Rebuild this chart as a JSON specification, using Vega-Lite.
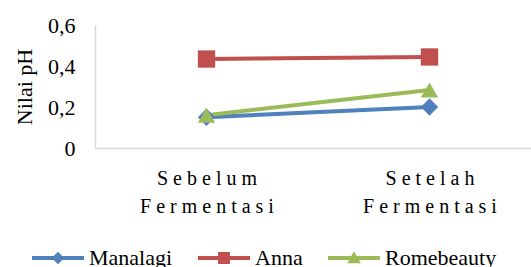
{
  "$schema": "https://vega.github.io/schema/vega-lite/v6.json",
  "autosize": {"type": "none"},
  "padding": {"left": 95, "top": 25, "right": 0, "bottom": 119},
  "width": 446,
  "height": 123,
  "background": "white",
  "config": {
    "view": {"stroke": null},
    "font": "Liberation Serif"
  },
  "data": {
    "values": [
      {"waktu": "Sebelum Fermentasi", "varietas": "Manalagi", "ph": 0.15},
      {"waktu": "Setelah Fermentasi", "varietas": "Manalagi", "ph": 0.20},
      {"waktu": "Sebelum Fermentasi", "varietas": "Anna", "ph": 0.434},
      {"waktu": "Setelah Fermentasi", "varietas": "Anna", "ph": 0.444},
      {"waktu": "Sebelum Fermentasi", "varietas": "Romebeauty", "ph": 0.16},
      {"waktu": "Setelah Fermentasi", "varietas": "Romebeauty", "ph": 0.283}
    ]
  },
  "encoding": {
    "x": {
      "field": "waktu",
      "type": "nominal",
      "sort": null,
      "scale": {"type": "point", "padding": 0.5},
      "axis": {
        "title": null,
        "labelAngle": 0,
        "ticks": false,
        "domainColor": "#d9d9d9",
        "domainWidth": 1.5,
        "labelFont": "Liberation Serif",
        "labelFontSize": 20,
        "labelColor": "#000000",
        "labelPadding": 20,
        "labelLineHeight": 28,
        "labelBaseline": "top",
        "labelExpr": "[replace(split(datum.label, ' ')[0], regexp('\\\\B', 'g'), ' '), replace(split(datum.label, ' ')[1], regexp('\\\\B', 'g'), ' ')]"
      }
    },
    "y": {
      "field": "ph",
      "type": "quantitative",
      "scale": {"domain": [0, 0.6], "nice": false},
      "axis": {
        "title": "Nilai pH",
        "titleFont": "Liberation Serif",
        "titleFontSize": 22,
        "titleFontWeight": "normal",
        "titleColor": "#000000",
        "titlePadding": 11,
        "values": [0, 0.2, 0.4, 0.6],
        "labelExpr": "datum.value == 0 ? '0' : replace(format(datum.value, '.1f'), '.', ',')",
        "labelFont": "Liberation Serif",
        "labelFontSize": 22,
        "labelColor": "#000000",
        "labelPadding": 20,
        "ticks": false,
        "grid": false,
        "domainColor": "#d9d9d9",
        "domainWidth": 1.5
      }
    },
    "color": {
      "field": "varietas",
      "type": "nominal",
      "sort": null,
      "scale": {
        "domain": ["Manalagi", "Anna", "Romebeauty"],
        "range": ["#4F81BD", "#C0504D", "#9BBB59"]
      }
    }
  },
  "layer": [
    {
      "mark": {"type": "line", "strokeWidth": 4},
      "encoding": {
        "color": {
          "field": "varietas",
          "type": "nominal",
          "sort": null,
          "legend": {
            "orient": "none",
            "direction": "horizontal",
            "legendX": -63,
            "legendY": 207,
            "title": null,
            "labelFont": "Liberation Serif",
            "labelFontSize": 22,
            "labelColor": "#000000",
            "labelOffset": 5,
            "columnPadding": 25,
            "symbolSize": 2704,
            "symbolStrokeWidth": 0,
            "encode": {
              "symbols": {
                "update": {
                  "shape": {"signal": "datum.value == 'Manalagi' ? 'M-1,-0.077H1V0.077H-1Z M0,-0.24L0.24,0L0,0.24L-0.24,0Z' : datum.value == 'Anna' ? 'M-1,-0.077H1V0.077H-1Z M-0.23,-0.23H0.23V0.23H-0.23Z' : 'M-1,-0.077H1V0.077H-1Z M0,-0.26L0.26,0.2L-0.26,0.2Z'"},
                  "fill": {"scale": "color", "field": "value"},
                  "fillOpacity": {"value": 1},
                  "strokeWidth": {"value": 0}
                }
              }
            }
          }
        }
      }
    },
    {
      "transform": [{"filter": "datum.varietas == 'Manalagi'"}],
      "mark": {"type": "point", "filled": true, "size": 300, "opacity": 1, "shape": "diamond"}
    },
    {
      "transform": [{"filter": "datum.varietas == 'Anna'"}],
      "mark": {"type": "point", "filled": true, "size": 300, "opacity": 1, "shape": "square"}
    },
    {
      "transform": [{"filter": "datum.varietas == 'Romebeauty'"}],
      "mark": {"type": "point", "filled": true, "size": 300, "opacity": 1, "shape": "triangle-up"}
    }
  ]
}
